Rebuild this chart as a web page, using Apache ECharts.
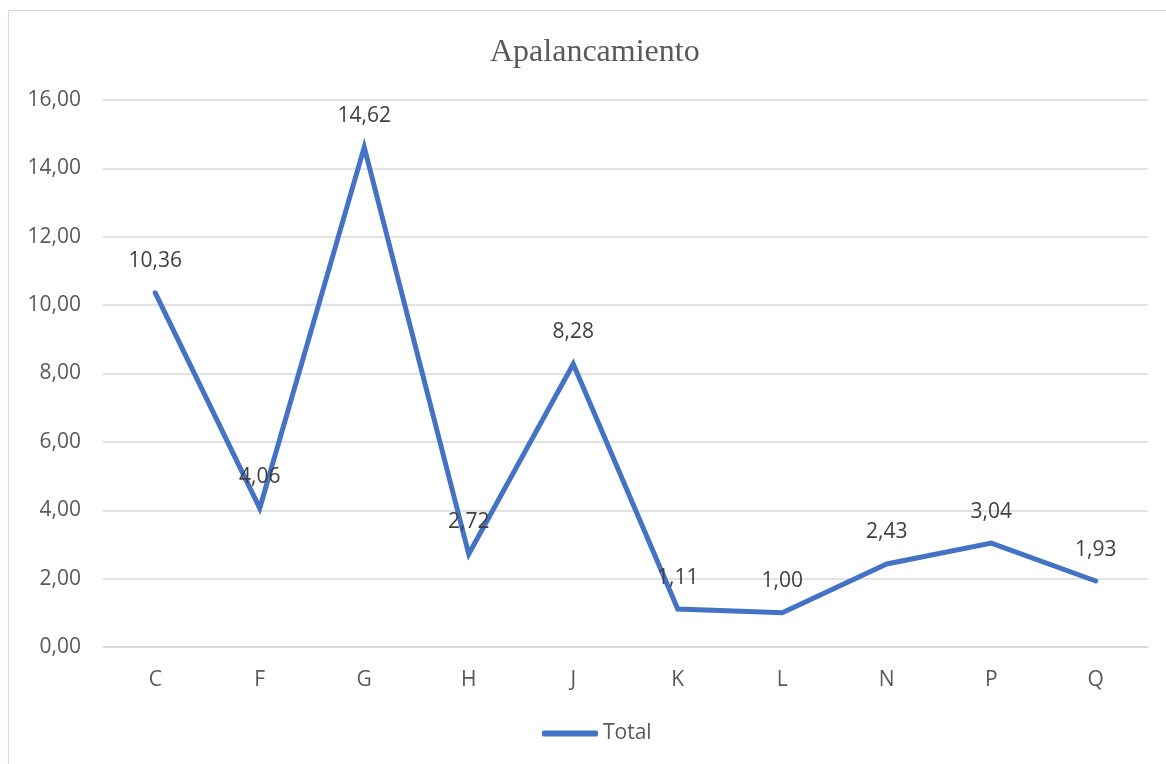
<!DOCTYPE html>
<html>
<head>
<meta charset="utf-8">
<title>Apalancamiento</title>
<script src="https://cdn.jsdelivr.net/npm/echarts@6/dist/echarts.min.js"></script>
<style>
  html, body { margin: 0; padding: 0; background: #ffffff; }
  #chart { width: 1166px; height: 764px; }
</style>
</head>
<body>
<div id="chart"></div>
<script>
// Sector categories and leverage totals
const categories = ['C', 'F', 'G', 'H', 'J', 'K', 'L', 'N', 'P', 'Q'];
const totals = [10.36, 4.06, 14.62, 2.72, 8.28, 1.11, 1.00, 2.43, 3.04, 1.93];
const seriesName = 'Total';
const chartTitle = 'Apalancamiento';

const yMin = 0, yMax = 16, yStep = 2;

const fmt = v => Number(v).toFixed(2).replace('.', ',');
const uiFont = '"Open Sans", "Noto Sans", sans-serif';
const uiSize = 21;

const chart = echarts.init(document.getElementById('chart'), null, { renderer: 'canvas' });

chart.setOption({
  backgroundColor: '#ffffff',
  animation: false,
  title: {
    text: chartTitle,
    left: 485,
    top: 32,
    textStyle: {
      fontFamily: '"Liberation Serif", "Times New Roman", serif',
      fontSize: 32,
      fontWeight: 'normal',
      color: '#595959'
    }
  },
  graphic: [{
    type: 'rect',
    silent: true,
    shape: { x: 8.5, y: 10.5, width: 1200, height: 800 },
    style: { fill: 'none', stroke: '#d9d9d9', lineWidth: 1.2 }
  }],
  legend: {
    data: [{ name: seriesName, icon: 'roundRect' }],
    left: 537,
    top: 718,
    itemWidth: 56,
    itemHeight: 6,
    itemGap: 10,
    textStyle: { fontFamily: uiFont, fontSize: uiSize, color: '#595959' }
  },
  grid: { left: 103, right: 18, top: 100, bottom: 117, containLabel: false },
  xAxis: {
    type: 'category',
    data: categories,
    boundaryGap: true,
    axisLine: { show: true, lineStyle: { color: '#d9d9d9', width: 1.5 } },
    axisTick: { show: false },
    axisLabel: { fontFamily: uiFont, fontSize: uiSize, color: '#595959', margin: 23 }
  },
  yAxis: {
    type: 'value',
    min: yMin,
    max: yMax,
    interval: yStep,
    axisLine: { show: false },
    axisTick: { show: false },
    splitLine: { lineStyle: { color: '#d9d9d9', width: 1.5 } },
    axisLabel: {
      fontFamily: uiFont, fontSize: uiSize, color: '#595959', margin: 22,
      formatter: fmt
    }
  },
  series: [{
    name: seriesName,
    type: 'line',
    data: totals,
    showSymbol: true,
    symbol: 'circle',
    symbolSize: 0,
    itemStyle: { color: '#4472c4' },
    lineStyle: { color: '#4472c4', width: 5, cap: 'round', join: 'miter' },
    label: {
      show: true,
      position: 'top',
      distance: 21,
      fontFamily: uiFont,
      fontSize: uiSize,
      color: '#404040',
      formatter: p => fmt(p.value)
    },
    labelLayout: { hideOverlap: false }
  }]
});
</script>
</body>
</html>
